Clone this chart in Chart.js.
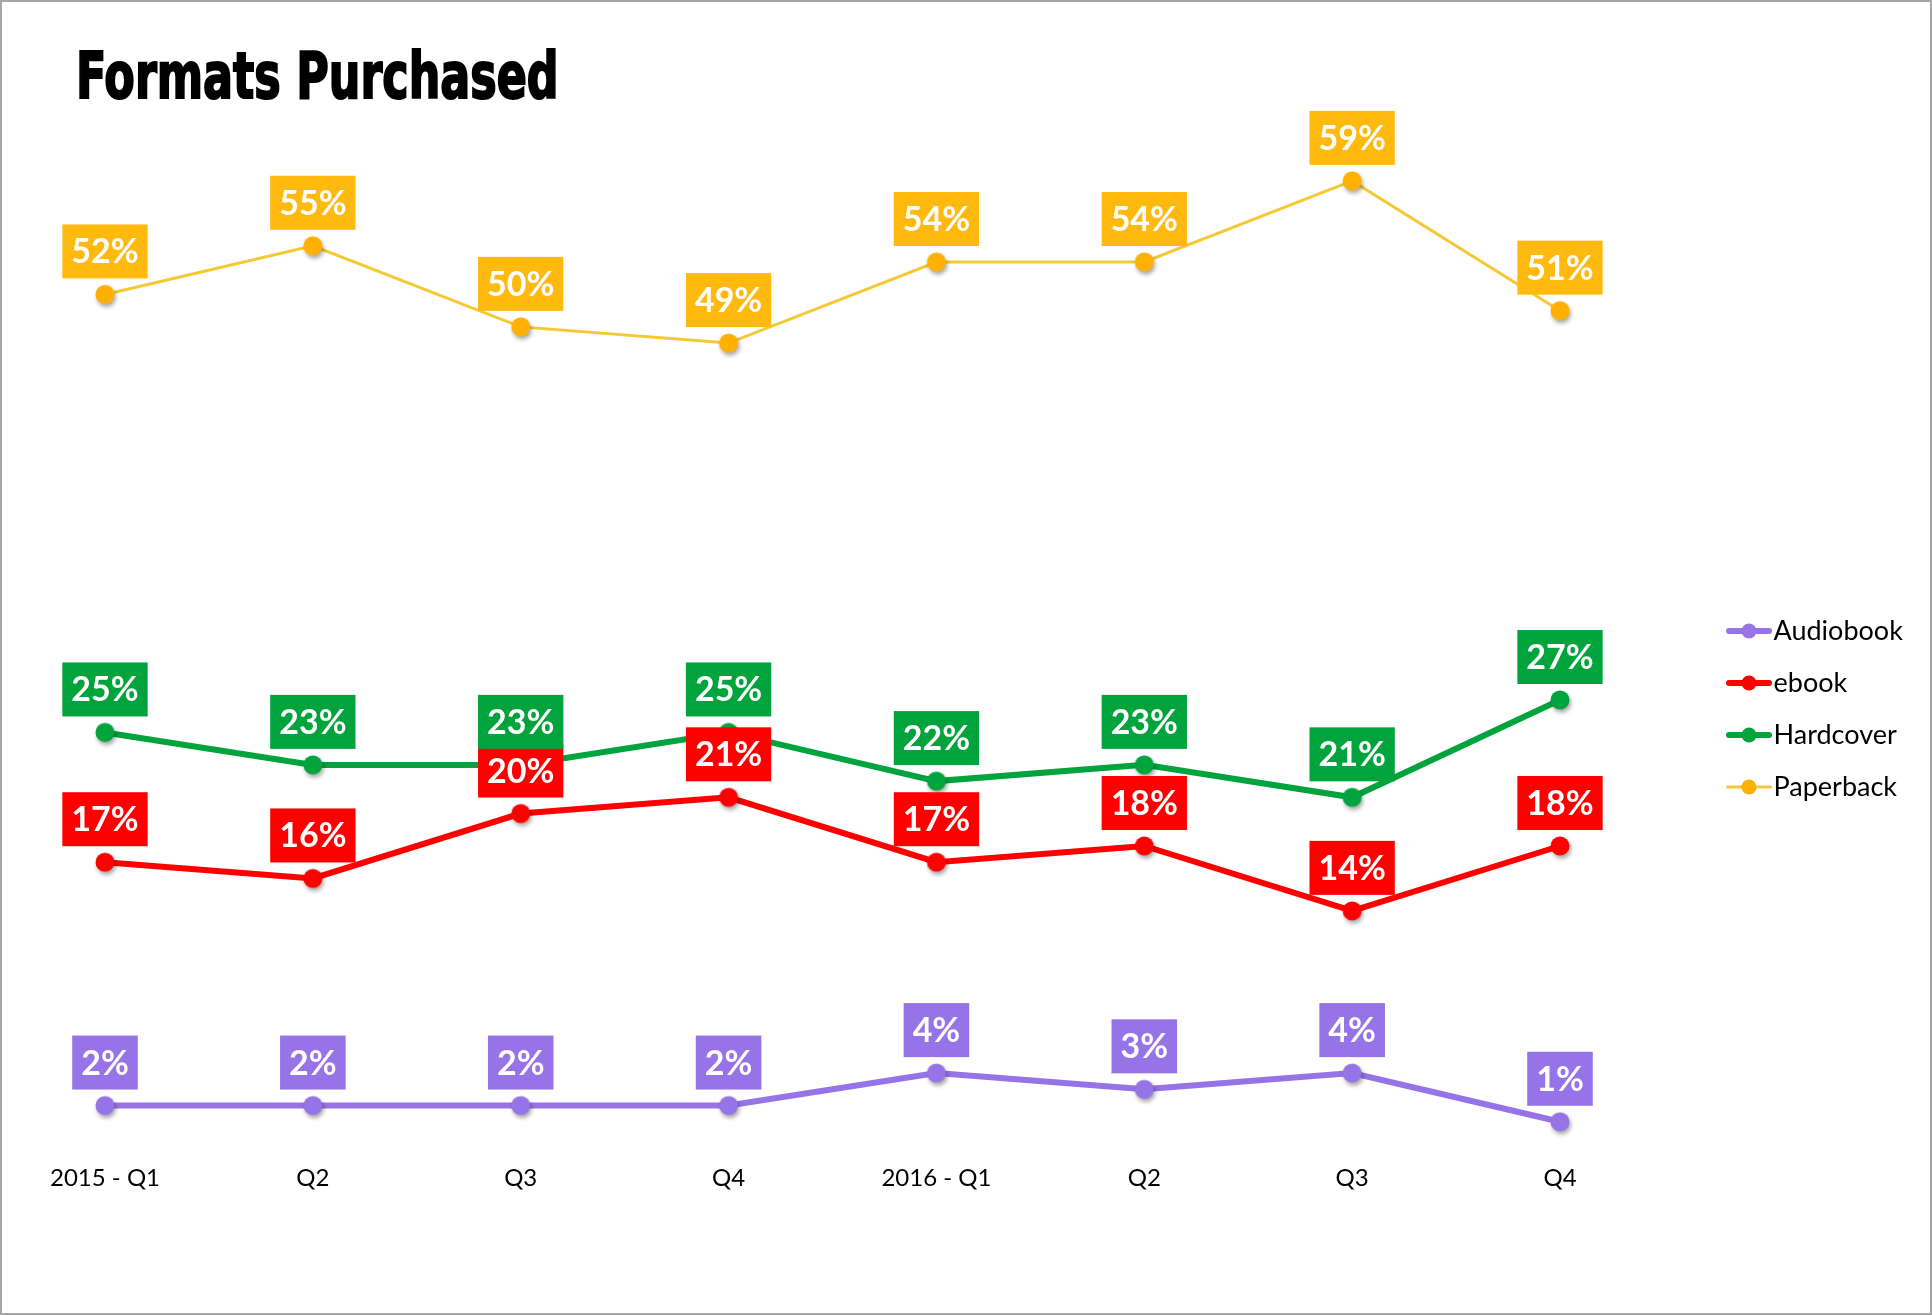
<!DOCTYPE html>
<html lang="en">

<head>
    <meta charset="UTF-8">
    <title>Formats Purchased</title>
    <script src="https://cdn.jsdelivr.net/npm/chart.js"></script>
    <style>
        html, body {
            margin: 0;
            padding: 0;
            background: #fff;
        }
        .wrap {
            position: relative;
            width: 1932px;
            height: 1315px;
            overflow: hidden;
        }
        .frame {
            position: absolute;
            left: 0; top: 0; right: 0; bottom: 0;
            border: 2px solid #a6a6a6;
            pointer-events: none;
        }
        #title {
            position: absolute;
            left: 76px;
            top: 44px;
            margin: 0;
            font-family: 'DejaVu Sans Condensed', 'DejaVu Sans', sans-serif;
            font-weight: bold;
            font-size: 64px;
            line-height: 1;
            white-space: nowrap;
            color: #000;
            -webkit-text-stroke: 2px #000;
            transform-origin: left top;
        }
    </style>
</head>

<body>
    <div class="wrap">
        <canvas id="myChart01"></canvas>
        <h1 id="title">Formats Purchased</h1>
        <div class="frame"></div>
    </div>
    <script>
        // data
        var quarters = ['2015 - Q1', 'Q2', 'Q3', 'Q4', '2016 - Q1', 'Q2', 'Q3', 'Q4'];
        var seriesNames = ['Audiobook', 'ebook', 'Hardcover', 'Paperback'];
        var audiobook = [2, 2, 2, 2, 4, 3, 4, 1];
        var ebook = [17, 16, 20, 21, 17, 18, 14, 18];
        var hardcover = [25, 23, 23, 25, 22, 23, 21, 27];
        var paperback = [52, 55, 50, 49, 54, 54, 59, 51];

        // colours: line, point, label box
        var lineColors = ['#9673e6', '#ff0000', '#00a33c', '#f5c933'];
        var pointColors = ['#9673e6', '#ff0000', '#00a33c', '#ffb000'];
        var boxColors = ['#9673e6', '#ff0000', '#00a33c', '#ffb90f'];
        var lineWidths = [6, 6, 6, 3];

        // title: squeeze to the width of the original condensed face
        var title = document.getElementById('title');
        title.style.transform = 'scaleX(' + (483 / title.offsetWidth) + ')';

        // legend icons: a short line with a dot
        function makeIcon(line, dot, lw) {
            var c = document.createElement('canvas');
            c.width = 46;
            c.height = 16;
            var g = c.getContext('2d');
            g.strokeStyle = line;
            g.lineWidth = lw;
            g.lineCap = 'round';
            g.beginPath();
            g.moveTo(lw / 2, 8);
            g.lineTo(46 - lw / 2, 8);
            g.stroke();
            g.fillStyle = dot;
            g.beginPath();
            g.arc(23, 8, 7.5, 0, Math.PI * 2);
            g.fill();
            return c;
        }
        var legendIcons = seriesNames.map(function (n, i) {
            return makeIcon(lineColors[i], pointColors[i], lineWidths[i]);
        });

        // point markers with the soft drop shadow of the original
        function makeDot(color) {
            var c = document.createElement('canvas');
            c.width = 34;
            c.height = 34;
            var g = c.getContext('2d');
            g.shadowColor = 'rgba(0,0,0,0.35)';
            g.shadowBlur = 4;
            g.shadowOffsetX = 1.5;
            g.shadowOffsetY = 3;
            g.fillStyle = color;
            g.beginPath();
            g.arc(17, 17, 9.5, 0, Math.PI * 2);
            g.fill();
            return c;
        }
        var dots = pointColors.map(makeDot);

        // right padding so the legend text ends near the edge
        var legendFont = '27px Lato';
        var mctx = document.createElement('canvas').getContext('2d');
        mctx.font = legendFont;
        var maxText = 0;
        seriesNames.forEach(function (n) {
            maxText = Math.max(maxText, mctx.measureText(n).width);
        });
        var padRight = Math.max(0, 1932 - 1783.5 - maxText);

        // boxed value labels above each point
        var boxLabels = {
            id: 'boxLabels',
            afterDatasetsDraw: function (chart) {
                var ctx = chart.ctx;
                ctx.save();
                ctx.font = 'bold 34px Lato';
                ctx.textAlign = 'center';
                ctx.textBaseline = 'middle';
                chart.data.datasets.forEach(function (ds, i) {
                    var meta = chart.getDatasetMeta(i);
                    meta.data.forEach(function (pt, j) {
                        var txt = ds.data[j] + '%';
                        var w = ctx.measureText(txt).width + 18;
                        var h = 54;
                        var top = pt.y - 16 - h;
                        ctx.fillStyle = boxColors[i];
                        ctx.fillRect(pt.x - w / 2, top, w, h);
                        ctx.fillStyle = '#fff';
                        ctx.fillText(txt, pt.x, top + h / 2 + 1);
                    });
                });
                ctx.restore();
            }
        };

        var allData = [audiobook, ebook, hardcover, paperback];
        var datasets = seriesNames.map(function (n, i) {
            return {
                label: n,
                data: allData[i],
                borderColor: lineColors[i],
                backgroundColor: pointColors[i],
                borderWidth: lineWidths[i],
                pointStyle: dots[i],
                pointRadius: 9.5,
                pointHoverRadius: 9.5,
                pointBorderWidth: 0,
                pointBackgroundColor: pointColors[i],
                tension: 0,
                clip: false
            };
        });

        Chart.defaults.font.family = 'Lato';
        var ctx01 = document.getElementById('myChart01');
        var chart01 = new Chart(ctx01, {
            type: 'line',
            data: {
                labels: quarters,
                datasets: datasets
            },
            options: {
                responsive: true,
                maintainAspectRatio: false,
                animation: false,
                events: [],
                layout: {
                    padding: { top: 103, left: 105, bottom: 0, right: padRight }
                },
                scales: {
                    x: {
                        offset: false,
                        grid: { display: false, drawTicks: false },
                        border: { display: false },
                        ticks: {
                            color: '#000',
                            font: { size: 24 },
                            padding: 26,
                            maxRotation: 0,
                            autoSkip: false
                        },
                        afterFit: function (s) { s.height = 177; }
                    },
                    y: {
                        position: 'right',
                        min: 0,
                        max: 63.8,
                        grid: { display: false, drawTicks: false },
                        border: { display: false },
                        ticks: { display: false },
                        afterFit: function (s) { s.width = 153; }
                    }
                },
                plugins: {
                    title: { display: false },
                    tooltip: { enabled: false },
                    legend: {
                        position: 'right',
                        align: 'center',
                        labels: {
                            usePointStyle: true,
                            pointStyleWidth: 22,
                            padding: 25,
                            color: '#000',
                            font: { size: 27 },
                            generateLabels: function (chart) {
                                var items = Chart.defaults.plugins.legend.labels.generateLabels(chart);
                                items.forEach(function (it, i) {
                                    it.pointStyle = legendIcons[i];
                                });
                                return items;
                            }
                        }
                    }
                }
            },
            plugins: [boxLabels]
        });
    </script>
</body>

</html>
